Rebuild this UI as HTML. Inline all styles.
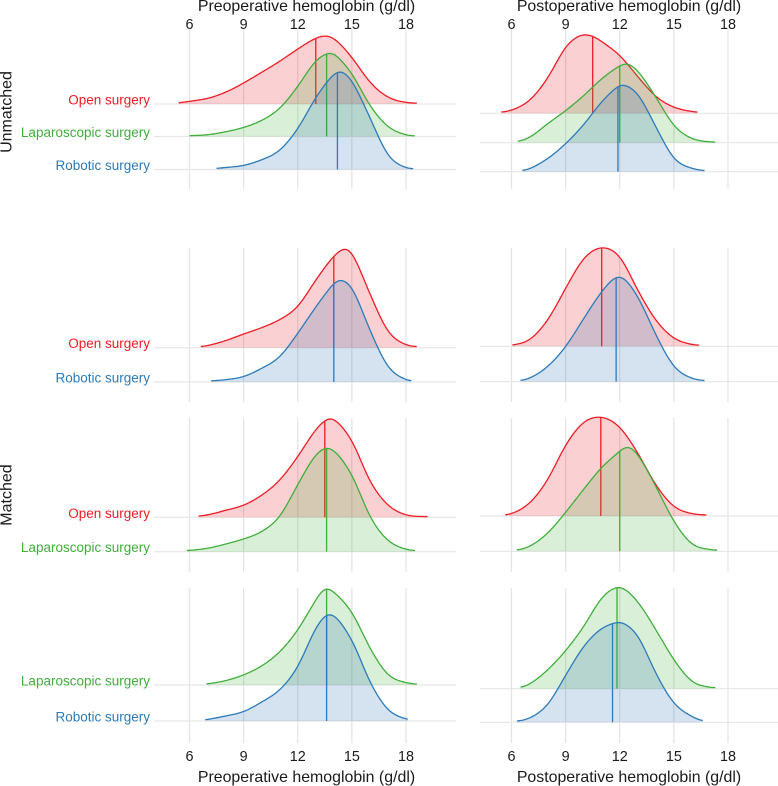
<!DOCTYPE html>
<html lang="en">
<head>
<meta charset="utf-8">
<title>Hemoglobin ridgeline chart</title>
<style>
html,body{margin:0;padding:0;background:#fff;width:778px;height:786px;overflow:hidden}
svg{display:block;font-family:"Liberation Sans",Arial,sans-serif}
</style>
</head>
<body>
<svg id="chart" xmlns="http://www.w3.org/2000/svg" width="778" height="786" viewBox="0 0 778 786">
  <text x="306.5" y="11" font-size="15.9" text-anchor="middle" fill="#1a1a1a">Preoperative hemoglobin (g/dl)</text>
  <text x="629" y="11" font-size="15.9" text-anchor="middle" fill="#1a1a1a">Postoperative hemoglobin (g/dl)</text>
  <text x="306.5" y="782" font-size="15.9" text-anchor="middle" fill="#1a1a1a">Preoperative hemoglobin (g/dl)</text>
  <text x="629" y="782" font-size="15.9" text-anchor="middle" fill="#1a1a1a">Postoperative hemoglobin (g/dl)</text>
  <text transform="translate(11.5,112) rotate(-90)" font-size="16" text-anchor="middle" fill="#1a1a1a">Unmatched</text>
  <text transform="translate(11.5,495) rotate(-90)" font-size="16" text-anchor="middle" fill="#1a1a1a">Matched</text>
</svg>
<script>
const tickValues = [6, 9, 12, 15, 18];

const preUnOpenX = [5.4,6,7,8,9,10,11,12,13,13.5,14,15,16,17,18,18.6];
const preUnOpenD = [1,2.7,5.5,11.7,21,31.7,42.7,55,66,68.5,66,46.7,21.7,6.7,1.5,0.8];
const preUnOpenMedian = 13.0;
const preUnLapX = [6,7,8,9,10,11,12,13,13.8,14,15,16,17,18,18.5];
const preUnLapD = [0.8,1.7,4.7,9,16,28,50,76,84.5,83.7,63,31,9.7,1.5,0.5];
const preUnLapMedian = 13.6;
const preUnRobX = [7.5,8,9,10,11,12,13,14,14.4,15,16,17,18,18.4];
const preUnRobD = [1,2,4,9.7,19,40.7,72,95.7,99,89,52,14,1.5,0.7];
const preUnRobMedian = 14.2;

const postUnOpenX = [5.43,6,7,8,9,9.8,10,10.5,11,12,13,14,15,16,16.3];
const postUnOpenD = [1,3,12.7,35,66.7,78.5,79,77.5,71.7,58,36.7,16.7,6,1.7,1];
const postUnOpenMedian = 10.5;
const postUnLapX = [6.35,7,8,9,10,11,12,12.4,13,14,15,16,17,17.3];
const postUnLapD = [1,5,19,32,47,64,77,80,72,45.7,17,4,0.7,0.7];
const postUnLapMedian = 12.0;
const postUnRobX = [6.6,7,8,9,10,11,12,12.1,13,14,15,16,16.7];
const postUnRobD = [1,2.7,13,28,47,70,87.5,88.5,78,45,13,3.3,1];
const postUnRobMedian = 11.9;

const preOrOpenX = [6.63,7,8,9,10,11,12,13,14,14.6,15,16,17,18,18.6];
const preOrOpenD = [1,2,7,13.7,20,28,41,67.7,91.7,100,96,54,16,2.7,1];
const preOrOpenMedian = 14.0;
const preOrRobX = [7.2,8,9,10,11,12,13,14,14.3,15,16,17,18,18.3];
const preOrRobD = [1,2.3,5.3,13.7,25,48.7,75,99,103,95,52,15,2,1];
const preOrRobMedian = 14.0;

const postOrOpenX = [6.05,7,8,9,10,11,12,13,14,15,16,16.4];
const postOrOpenD = [1,6.3,26,58,88,99,90,56,26,8,1.7,1];
const postOrOpenMedian = 11.0;
const postOrRobX = [6.5,7,8,9,10,11,12,13,14,15,16,16.7];
const postOrRobD = [1,3.3,15,35,63,90,106,85,47,15,3.3,1];
const postOrRobMedian = 11.8;

const preOlOpenX = [6.5,7,8,9,10,11,12,13,13.5,13.9,15,16,17,18,19,19.2];
const preOlOpenD = [1,2.3,7,12,22,37,60.7,88,97,100,77,36,12,2.3,0.7,0.7];
const preOlOpenMedian = 13.5;
const preOlLapX = [5.85,6,7,8,9,10,11,12,13,13.8,15,16,17,18,18.5];
const preOlLapD = [1,1.3,3.3,7.7,12.7,20,35,67,97,104,77,35,11,2.3,1];
const preOlLapMedian = 13.6;

const postOlOpenX = [5.65,6,7,8,9,10,11,12,13,14,15,16,16.8];
const postOlOpenD = [1,2,12.7,36,71,94,99,89,63,31,9.3,2.3,1];
const postOlOpenMedian = 10.95;
const postOlLapX = [6.3,7,8,9,10,11,12,12.4,13,14,15,16,17,17.4];
const postOlLapD = [1,4.7,18,39,62,84,100,106,97,65,30,7,1.7,1];
const postOlLapMedian = 12.0;

const preLrLapX = [6.94,7,8,9,10,11,12,13,13.5,14,15,16,17,18,18.6];
const preLrLapD = [0.8,1,4.3,10,19,33,55,85,98,93,73,37,10,2.3,0.7];
const preLrLapMedian = 13.6;
const preLrRobX = [6.87,8,9,10,11,12,13,13.8,15,16,17,18,18.1];
const preLrRobD = [1,5,9.3,19,31,54,93,108,81,39,11,1.7,1.3];
const preLrRobMedian = 13.6;

const postLrLapX = [6.5,7,8,9,10,11,12,13,14,15,16,17,17.3];
const postLrLapD = [1,4.3,18.7,38,62,91,102,87,59,29,7,1.3,1];
const postLrLapMedian = 11.85;
const postLrRobX = [6.3,7,8,9,10,11,12,12.1,13,14,15,16,16.6];
const postLrRobD = [1,4,17.3,47,76,94,101,101,87,49,19,5.7,1];
const postLrRobMedian = 11.6;

const groupNames = { open: 'Open surgery', lap: 'Laparoscopic surgery', rob: 'Robotic surgery' };
const groupStroke = { open: '#ee1c25', lap: '#3fae3b', rob: '#2b7bba' };
const groupFill = { open: '#e8141c', lap: '#3fae3b', rob: '#2b6fb0' };

const panels = [
  { id: 'pre-unmatched', col: 0, top: 28, bottom: 189, ridges: [
    { g: 'open', base: 104, xs: preUnOpenX, ds: preUnOpenD, med: preUnOpenMedian },
    { g: 'lap', base: 136.5, xs: preUnLapX, ds: preUnLapD, med: preUnLapMedian },
    { g: 'rob', base: 169.5, xs: preUnRobX, ds: preUnRobD, med: preUnRobMedian } ] },
  { id: 'post-unmatched', col: 1, top: 28, bottom: 189, ridges: [
    { g: 'open', base: 113.3, xs: postUnOpenX, ds: postUnOpenD, med: postUnOpenMedian },
    { g: 'lap', base: 142.7, xs: postUnLapX, ds: postUnLapD, med: postUnLapMedian },
    { g: 'rob', base: 171.7, xs: postUnRobX, ds: postUnRobD, med: postUnRobMedian } ] },
  { id: 'pre-open-robotic', col: 0, top: 248, bottom: 402, ridges: [
    { g: 'open', base: 347.7, xs: preOrOpenX, ds: preOrOpenD, med: preOrOpenMedian },
    { g: 'rob', base: 382, xs: preOrRobX, ds: preOrRobD, med: preOrRobMedian } ] },
  { id: 'post-open-robotic', col: 1, top: 248, bottom: 402, ridges: [
    { g: 'open', base: 346.3, xs: postOrOpenX, ds: postOrOpenD, med: postOrOpenMedian },
    { g: 'rob', base: 381.7, xs: postOrRobX, ds: postOrRobD, med: postOrRobMedian } ] },
  { id: 'pre-open-laparoscopic', col: 0, top: 418, bottom: 572, ridges: [
    { g: 'open', base: 517.3, xs: preOlOpenX, ds: preOlOpenD, med: preOlOpenMedian },
    { g: 'lap', base: 551.7, xs: preOlLapX, ds: preOlLapD, med: preOlLapMedian } ] },
  { id: 'post-open-laparoscopic', col: 1, top: 418, bottom: 572, ridges: [
    { g: 'open', base: 516, xs: postOlOpenX, ds: postOlOpenD, med: postOlOpenMedian },
    { g: 'lap', base: 551.3, xs: postOlLapX, ds: postOlLapD, med: postOlLapMedian } ] },
  { id: 'pre-laparoscopic-robotic', col: 0, top: 588, bottom: 743, ridges: [
    { g: 'lap', base: 685, xs: preLrLapX, ds: preLrLapD, med: preLrLapMedian },
    { g: 'rob', base: 721, xs: preLrRobX, ds: preLrRobD, med: preLrRobMedian } ] },
  { id: 'post-laparoscopic-robotic', col: 1, top: 588, bottom: 743, ridges: [
    { g: 'lap', base: 688.7, xs: postLrLapX, ds: postLrLapD, med: postLrLapMedian },
    { g: 'rob', base: 722.3, xs: postLrRobX, ds: postLrRobD, med: postLrRobMedian } ] }
];

const SVG_NS = 'http://www.w3.org/2000/svg';
const svg = document.getElementById('chart');
const columns = [
  { x6: 189.5, left: 154, right: 456 },
  { x6: 511.5, left: 480, right: 778 }
];
const PX_PER_UNIT = 18.04;
const DENSITY_SCALE = 1;
const SMOOTH_SIGMA = 0.26;

function xScale(col, v) { return columns[col].x6 + (v - 6) * PX_PER_UNIT; }
function yScale(base, d) { return base - d * DENSITY_SCALE; }

function make(tag, attrs, parent) {
  const n = document.createElementNS(SVG_NS, tag);
  for (const k in attrs) n.setAttribute(k, attrs[k]);
  (parent || svg).appendChild(n);
  return n;
}

/* Cubic through the read values, then a light Gaussian pass so the
   curve reads as a kernel density estimate instead of joined segments. */
function smoothDensity(xs, ys) {
  const n = xs.length, m = new Array(n);
  for (let i = 0; i < n; i++) {
    const a = Math.max(i - 1, 0), b = Math.min(i + 1, n - 1);
    m[i] = (ys[b] - ys[a]) / (xs[b] - xs[a]);
  }
  function raw(x) {
    if (x <= xs[0]) return ys[0];
    if (x >= xs[n - 1]) return ys[n - 1];
    let i = 0;
    while (i < n - 2 && x > xs[i + 1]) i++;
    const h = xs[i + 1] - xs[i];
    const t = (x - xs[i]) / h, t2 = t * t, t3 = t2 * t;
    return (2 * t3 - 3 * t2 + 1) * ys[i] + (t3 - 2 * t2 + t) * h * m[i] +
           (-2 * t3 + 3 * t2) * ys[i + 1] + (t3 - t2) * h * m[i + 1];
  }
  return function (x) {
    let sum = 0, w = 0;
    for (let k = -12; k <= 12; k++) {
      const dx = k * SMOOTH_SIGMA / 4;
      const wt = Math.exp(-dx * dx / (2 * SMOOTH_SIGMA * SMOOTH_SIGMA));
      sum += wt * raw(x + dx);
      w += wt;
    }
    return Math.max(sum / w, 0);
  };
}

panels.forEach(function (p) {
  const grid = make('g', {});
  
  
  tickValues.forEach(function (t) {
    const gl = make('line', { x1: xScale(p.col, t), x2: xScale(p.col, t), y1: p.top, y2: p.bottom, stroke: '#e3e3e3', 'stroke-width': 1.2 }, grid);
    
    
  });
  p.ridges.forEach(function (r) {
    const hl = make('line', { x1: columns[p.col].left, x2: columns[p.col].right, y1: r.base, y2: r.base, stroke: '#e6e6e6', 'stroke-width': 1.2 }, grid);
    
    
  });
});

panels.forEach(function (p) {
  p.ridges.forEach(function (r) {
    const f = smoothDensity(r.xs, r.ds);
    const first = r.xs[0], last = r.xs[r.xs.length - 1], steps = 160;
    let line = '';
    for (let i = 0; i <= steps; i++) {
      const v = first + (last - first) * i / steps;
      line += (i ? 'L' : 'M') + xScale(p.col, v).toFixed(2) + ' ' + yScale(r.base, f(v)).toFixed(2);
    }
    const area = line + 'L' + xScale(p.col, last).toFixed(2) + ' ' + r.base + 'L' + xScale(p.col, first).toFixed(2) + ' ' + r.base + 'Z';
    const g = make('g', {});
    
    
    const fill = make('path', { d: area, fill: groupFill[r.g], 'fill-opacity': 0.2, stroke: 'none' }, g);
    
    
    const curve = make('path', { d: line, fill: 'none', stroke: groupStroke[r.g], 'stroke-width': 1.3 }, g);
    
    
    const mx = xScale(p.col, r.med);
    const med = make('line', { x1: mx, x2: mx, y1: r.base, y2: yScale(r.base, f(r.med)), stroke: groupStroke[r.g], 'stroke-width': 1.3 }, g);
    
    
    if (p.col === 0) {
      const lab = make('text', { x: 150, y: r.base + 0.5, 'font-size': 13.5, 'text-anchor': 'end', fill: groupStroke[r.g] });
      
      
      lab.textContent = groupNames[r.g];
    }
  });
});

[0, 1].forEach(function (col) {
  [29, 761].forEach(function (y) {
    tickValues.forEach(function (t) {
      const tx = make('text', { x: xScale(col, t), y: y, 'font-size': 14.4, 'text-anchor': 'middle', fill: '#1a1a1a' });
      
      
      tx.textContent = t;
    });
  });
});
</script>
</body>
</html>
